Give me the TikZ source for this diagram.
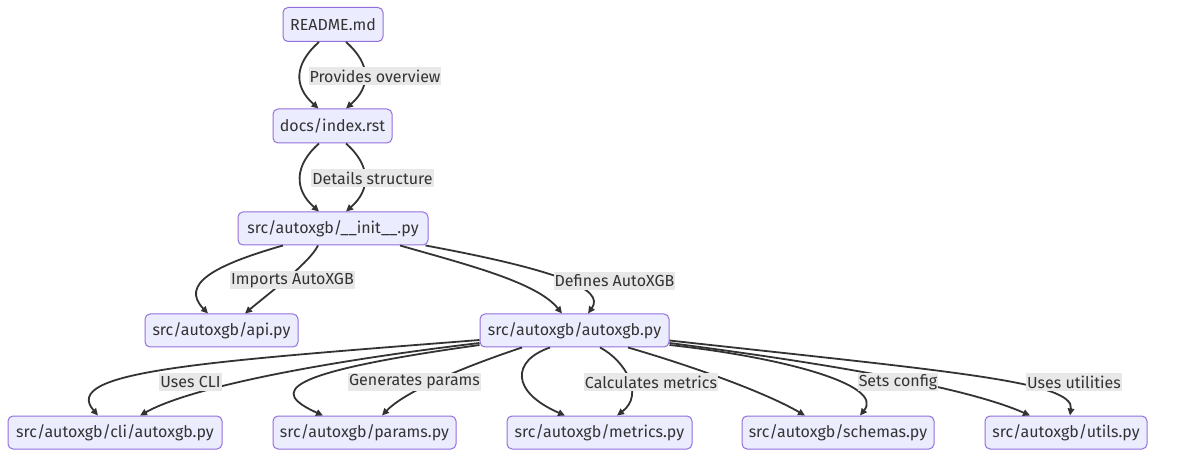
\documentclass[tikz,border=0pt]{standalone}
\usepackage{fontspec}
\setmainfont{Fira Sans}
\usetikzlibrary{arrows.meta,calc}
\definecolor{ink}{HTML}{333333}
\definecolor{boxfill}{HTML}{ECECFF}
\definecolor{boxrim}{HTML}{9370DB}
\definecolor{lblbg}{HTML}{E8E8E8}
\tikzset{
  file/.style={draw=boxrim,line width=1pt,fill=boxfill,rounded corners=5pt,
               minimum height=33,inner sep=0pt,text=ink,font=\fontsize{16}{19}\selectfont},
  edgelbl/.style={fill=lblbg,minimum height=18,inner xsep=1pt,inner ysep=0pt,
                  text=ink,font=\fontsize{16}{19}\selectfont},
  linkarr/.style={-{Triangle[length=7pt,width=6.5pt]},line width=1.8pt,draw=ink},
}

\begin{document}
\begin{tikzpicture}[x=1pt,y=-1pt]
  \useasboundingbox[fill=white] (0,0) rectangle (1184,462);

  % ---------------------------------------------------------------- files
  \node[file,minimum width=100,minimum height=34] (readme) at (333,24.5) {README.md};
  \node[file,minimum width=119,minimum height=34] (docs) at (332.5,126) {docs/index.rst};
  \node[file,minimum width=190] (init) at (333,228.5) {src/autoxgb/\_\_init\_\_.py};
  \node[file,minimum width=153] (api) at (221.5,330.5) {src/autoxgb/api.py};
  \node[file,minimum width=189] (core) at (574.5,330.5) {src/autoxgb/autoxgb.py};
  \node[file,minimum width=214] (cli) at (115,432.5) {src/autoxgb/cli/autoxgb.py};
  \node[file,minimum width=183] (params) at (364.5,432.5) {src/autoxgb/params.py};
  \node[file,minimum width=185] (metrics) at (599.5,432.5) {src/autoxgb/metrics.py};
  \node[file,minimum width=192] (schemas) at (838,432.5) {src/autoxgb/schemas.py};
  \node[file,minimum width=162] (utils) at (1066,432.5) {src/autoxgb/utils.py};

  % ---------------------------------------------------------------- links, two per pair
  \draw[linkarr] ($(readme.south)+(-14,0)$) .. controls +(-25,22) and +(-25,-22) .. ($(docs.north)+(-14,0)$);
  \draw[linkarr] ($(readme.south)+(13,0)$) .. controls +(25,22) and +(25,-22) .. ($(docs.north)+(13.5,0)$);
  \draw[linkarr] ($(docs.south)+(-13.5,0)$) .. controls +(-25,22) and +(-25,-22) .. ($(init.north)+(-14,0)$);
  \draw[linkarr] ($(docs.south)+(13.5,0)$) .. controls +(25,22) and +(25,-22) .. ($(init.north)+(13,0)$);

  \draw[linkarr] ($(init.south)+(-50,0)$) .. controls +(-70,20) and +(-28,-29) .. ($(api.north)+(-13.5,0)$);
  \draw[linkarr] ($(init.south)+(-15,0)$) .. controls +(-8,17) and +(20,-17) .. ($(api.north)+(23.5,0)$);
  \draw[linkarr] ($(init.south)+(67,0)$) .. controls +(70,20) and +(-25,-31) .. ($(core.north)+(-12.5,0)$);
  \draw[linkarr] ($(init.south east)+(-3,0)$) .. controls +(135,25) and +(17,-24) .. ($(core.north)+(13.5,0)$);

  % fan out of autoxgb.py
  \draw[linkarr] ($(core.west)+(0,9.5)$) .. controls +(-280,22) and +(-38,-44) .. ($(cli.north)+(-17,0)$);
  \draw[linkarr] ($(core.west)+(0,12.5)$) .. controls +(-160,19) and +(50,-28) .. ($(cli.north)+(25,0)$);
  \draw[linkarr] ($(core.west)+(0,14.5)$) .. controls +(-200,28) and +(-53,-24) .. ($(params.north)+(-41.5,0)$);
  \draw[linkarr] ($(core.south)+(-52.5,0)$) .. controls +(-60,20) and +(23,-24) .. ($(params.north)+(17.5,0)$);
  \draw[linkarr] ($(core.south)+(-24.5,0)$) .. controls +(-38,13) and +(-55,-24) .. ($(metrics.north)+(-34.5,0)$);
  \draw[linkarr] ($(core.south)+(25.5,0)$) .. controls +(25,13) and +(28,-21) .. ($(metrics.north)+(17.5,0)$);
  \draw[linkarr] ($(core.south)+(53.5,0)$) .. controls +(52,15) and +(-45,-26) .. ($(schemas.north)+(-33,0)$);
  \draw[linkarr] ($(core.east)+(0,14.5)$) .. controls +(111,12) and +(25,-31) .. ($(schemas.north)+(22,0)$);
  \draw[linkarr] ($(core.east)+(0,12.5)$) .. controls +(131,17) and +(-70,-31) .. ($(utils.north)+(-36,0)$);
  \draw[linkarr] ($(core.east)+(0,10)$) .. controls +(281,31) and +(5,-34) .. ($(utils.north)+(4,0)$);

  % ---------------------------------------------------------------- labels on top
  \node[edgelbl] (overview) at (375,76) {Provides overview};
  \node[edgelbl] (structure) at (372.5,178) {Details structure};
  \node[edgelbl] (imports) at (292.5,280.5) {Imports AutoXGB};
  \node[edgelbl] (defines) at (614.5,281) {Defines AutoXGB};
  \node[edgelbl] (usescli) at (190.5,382) {Uses CLI};
  \node[edgelbl] (genparams) at (414.5,382) {Generates params};
  \node[edgelbl] (calcmetrics) at (651,382) {Calculates metrics};
  \node[edgelbl] (setsconfig) at (898,382) {Sets config};
  \node[edgelbl] (useutils) at (1074,382) {Uses utilities};
\end{tikzpicture}
\end{document}
